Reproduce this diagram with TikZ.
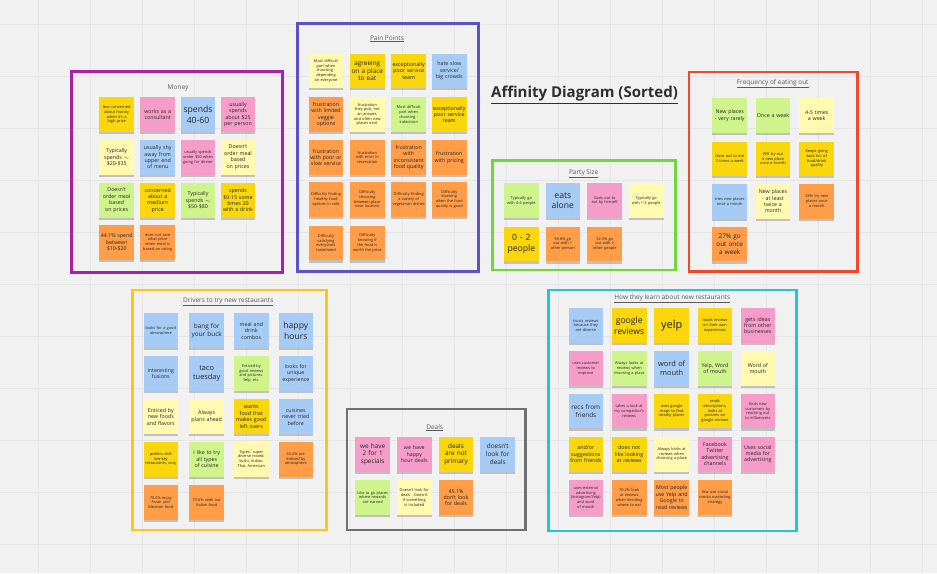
\documentclass[tikz,border=0pt]{standalone}
\usepackage{fontspec}
\setmainfont{Open Sans}
\usetikzlibrary{shadows}
\hyphenpenalty=10000
\exhyphenpenalty=10000
\definecolor{bgc}{RGB}{241,241,241}
\definecolor{gridc}{RGB}{229,229,229}
\definecolor{cgold}{RGB}{250,214,12}
\definecolor{cyell}{RGB}{255,250,176}
\definecolor{cpink}{RGB}{245,156,200}
\definecolor{cblue}{RGB}{166,204,245}
\definecolor{cgreen}{RGB}{208,244,140}
\definecolor{corange}{RGB}{255,157,72}
\definecolor{fmoney}{RGB}{170,30,170}
\definecolor{fpain}{RGB}{92,82,200}
\definecolor{fparty}{RGB}{112,214,62}
\definecolor{ffreq}{RGB}{240,72,40}
\definecolor{fdriv}{RGB}{250,200,20}
\definecolor{fdeals}{RGB}{112,112,112}
\definecolor{flearn}{RGB}{32,200,210}
\definecolor{ttl}{RGB}{90,90,90}
\tikzset{
  note/.style={minimum width=34.6pt,minimum height=34.6pt,text width=32.4pt,inner sep=0.6pt,align=center,text=black!85,
    drop shadow={shadow xshift=0pt,shadow yshift=-2.2pt,opacity=0.2,fill=black}},
  sm/.style={font=\fontsize{3.9}{4.7}\selectfont},
  md/.style={font=\fontsize{5.3}{6.4}\selectfont},
  mdp/.style={font=\fontsize{6.4}{7.8}\selectfont},
  lg/.style={font=\fontsize{8.6}{10.6}\selectfont},
  xl/.style={font=\fontsize{11}{13}\selectfont},
  frm/.style={line width=2.6pt,fill=none},
  ftitle/.style={font=\fontsize{6.5}{7.6}\selectfont,text=ttl},
}
\newcommand{\ul}[1]{\underline{#1}}
\begin{document}
\begin{tikzpicture}[x=1pt,y=-1pt]
\useasboundingbox (0,0) rectangle (937,573);
\fill[bgc] (0,0) rectangle (937,573);
\foreach \gx in {38,90,...,937} \draw[gridc,line width=0.8pt] (\gx,0) -- (\gx,573);
\foreach \gy in {24,76,...,573} \draw[gridc,line width=0.8pt] (0,\gy) -- (937,\gy);

% Title
\node[font=\fontsize{15}{17}\selectfont\bfseries,text=black!82] (title) at (584.5,95) {\ul{Affinity Diagram (Sorted)}};

% ===== Money =====
\draw[frm,fmoney] (71.5,71.5) rectangle (282.5,272.5);
\node[ftitle] (tmoney) at (178,87.5) {Money};
\node[note,sm,fill=cgold] (m1) at (116.7,114.7) {less concerned about money when it's a high price};
\node[note,md,fill=cpink] (m2) at (157.7,114.7) {works as a consultant};
\node[note,lg,fill=cblue] (m3) at (198,114.7) {spends 40-60};
\node[note,md,fill=cpink] (m4) at (238,114.7) {usually spends about \$25 per person};
\node[note,md,fill=cyell] (m5) at (116.7,157.3) {Typically spends $\sim$ \$20-\$35};
\node[note,md,fill=cblue] (m6) at (157.7,157.3) {usually shy away from upper end of menu};
\node[note,sm,fill=cpink] (m7) at (198,157.3) {usually spends under \$50 when going for dinner};
\node[note,md,fill=cyell] (m8) at (238,157.3) {Doesn't order meal based on prices};
\node[note,md,fill=cgreen] (m9) at (116.7,200.3) {Doesn't order meal based on prices};
\node[note,md,fill=cgold] (m10) at (157.7,200.3) {concerned about a medium price};
\node[note,md,fill=cgreen] (m11) at (198,200.3) {Typically spends $\sim$ \$50-\$80};
\node[note,md,fill=cgold] (m12) at (238,200.3) {spends \$0-15 some times 20 with a drink};
\node[note,md,fill=corange] (m13) at (116.7,242.3) {44.1\% spend between \$10-\$20};
\node[note,sm,fill=corange] (m14) at (157.7,242.3) {does not care what price when meal is based on rating};

% ===== Pain Points =====
\draw[frm,fpain] (297.5,23.5) rectangle (478.5,271.5);
\node[ftitle] (tpain) at (387,38.7) {\ul{Pain Points}};
\node[note,sm,fill=cyell] (p1) at (326,70.8) {Most difficult part when choosing - depending on everyone};
\node[note,mdp,fill=cgold] (p2) at (367.3,70.8) {agreeing on a place to eat};
\node[note,md,fill=cgold] (p3) at (408.7,70.8) {exceptionally poor service team};
\node[note,md,fill=cblue] (p4) at (449.3,70.8) {hate slow service/ big crowds};
\node[note,md,fill=corange] (p5) at (326,114.5) {frustration with limited veggie options};
\node[note,sm,fill=cyell] (p6) at (367.3,114.5) {frustration they pick, not an answer, and often new places exist};
\node[note,sm,fill=cgreen] (p7) at (408.7,114.5) {Most difficult part when choosing - indecision};
\node[note,md,fill=cgold] (p8) at (449.3,114.5) {exceptionally poor service team};
\node[note,md,fill=corange] (p9) at (326,157.5) {frustration with poor or slow service};
\node[note,sm,fill=corange] (p10) at (367.3,157.5) {frustration with error in reservation};
\node[note,md,fill=corange] (p11) at (408.7,157.5) {frustration with inconsistent food quality};
\node[note,md,fill=corange] (p12) at (449.3,157.5) {frustration with pricing};
\node[note,sm,fill=corange] (p13) at (326,199.3) {Difficulty finding healthy food options in cafe};
\node[note,sm,fill=corange] (p14) at (367.3,199.3) {Difficulty choosing between place near location};
\node[note,sm,fill=corange] (p15) at (408.7,199.3) {Difficulty finding a variety of vegetarian dishes};
\node[note,sm,fill=corange] (p16) at (449.3,199.3) {Difficulty knowing when the food quality is good};
\node[note,sm,fill=corange] (p17) at (326,243) {Difficulty satisfying everyone's taste/need};
\node[note,sm,fill=corange] (p18) at (367.3,243) {Difficulty knowing if the food is worth the price};

% ===== Party Size =====
\draw[frm,fparty] (492.5,160.5) rectangle (675.5,270);
\node[ftitle] (tparty) at (583.7,174) {\ul{Party Size}};
\node[note,sm,fill=cgreen] (s1) at (521.3,200.7) {Typically go with 4-6 people};
\node[note,lg,fill=cblue] (s2) at (562.8,200.7) {eats alone};
\node[note,sm,fill=cpink] (s3) at (604.7,200.7) {Goes out to eat by himself};
\node[note,sm,fill=cyell] (s4) at (646.2,200.7) {Typically go with 1-3 people};
\node[note,lg,fill=cgold] (s5) at (521.3,244) {0 - 2 people};
\node[note,sm,fill=corange] (s6) at (562.8,244) {58.8\% go out with 1 other person};
\node[note,sm,fill=corange] (s7) at (604.7,244) {32.3\% go out with 2 other people};

% ===== Frequency =====
\draw[frm,ffreq] (689,72) rectangle (857.5,271.3);
\node[ftitle] (tfreq) at (772.7,84) {\ul{Frequency of eating out}};
\node[note,md,fill=cgreen] (f1) at (729.7,115.5) {New places - very rarely};
\node[note,md,fill=cgreen] (f2) at (773,115.5) {Once a week};
\node[note,md,fill=cyell] (f3) at (816.7,115.5) {4-5 times a week};
\node[note,sm,fill=cgold] (f4) at (729.7,158.8) {Goes out to eat 3 times a week};
\node[note,sm,fill=cgold] (f5) at (773,158.8) {Will try out a new place once a month};
\node[note,sm,fill=cgold] (f6) at (816.7,158.8) {Keeps going back b/c of food/drink quality};
\node[note,sm,fill=cblue] (f7) at (729.7,201.3) {tries new places once a month};
\node[note,md,fill=cyell] (f8) at (773,201.3) {New places - at least twice a month};
\node[note,sm,fill=corange] (f9) at (816.7,201.3) {38\% try new places once a month};
\node[note,mdp,fill=corange] (f10) at (729.7,244) {27\% go out once a week};

% ===== Drivers =====
\draw[frm,fdriv] (132.5,290) rectangle (326.5,530);
\node[ftitle] (tdriv) at (228.3,302) {\ul{Drivers to try new restaurants}};
\node[note,sm,fill=cblue] (d1) at (160.8,330.7) {looks for a good atmosphere};
\node[note,mdp,fill=cblue] (d2) at (206.7,330.7) {bang for your buck};
\node[note,md,fill=cblue] (d3) at (251.3,330.7) {meal and drink combos};
\node[note,lg,fill=cblue] (d4) at (295.8,330.7) {happy hours};
\node[note,md,fill=cblue] (d5) at (160.8,373.5) {interesting fusions};
\node[note,font=\fontsize{7.4}{9.2}\selectfont,fill=cblue] (d6) at (206.7,373.5) {taco tuesday};
\node[note,sm,fill=cgreen] (d7) at (251.3,373.5) {Enticed by good reviews and pictures. Yelp, etc.};
\node[note,md,fill=cblue] (d8) at (295.8,373.5) {looks for unique experience};
\node[note,md,fill=cyell] (d9) at (160.8,416.7) {Enticed by new foods and flavors};
\node[note,md,fill=cyell] (d10) at (206.7,416.7) {Always plans ahead};
\node[note,md,fill=cgold] (d11) at (251.3,416.7) {wants food that makes good left overs};
\node[note,md,fill=cblue] (d12) at (295.8,416.7) {cuisines never tried before};
\node[note,sm,fill=cgold] (d13) at (160.8,459.2) {prefers chill low-key restaurants, cozy};
\node[note,md,fill=cgreen] (d14) at (206.7,459.2) {I like to try all types of cuisine};
\node[note,sm,fill=cyell] (d15) at (251.3,459.2) {Types: super diverse mixed: Sushi, Indian, Thai, American};
\node[note,sm,fill=corange] (d16) at (295.8,459.2) {63.4\% are enticed by atmosphere};
\node[note,sm,fill=corange] (d17) at (160.8,502.5) {70.6\% enjoy Asian and Mexican food};
\node[note,sm,fill=corange] (d18) at (206.7,502.5) {73.6\% seek out Italian food};

% ===== Deals =====
\draw[frm,fdeals] (347,409) rectangle (525.5,530);
\node[ftitle] (tdeals) at (434.7,427.7) {\ul{Deals}};
\node[note,mdp,fill=cpink] (e1) at (372.7,454.2) {we have 2 for 1 specials};
\node[note,md,fill=cpink] (e2) at (414.3,454.2) {we have happy hour deals};
\node[note,mdp,fill=cgold] (e3) at (456,454.2) {deals are not primary};
\node[note,mdp,fill=cblue] (e4) at (497.7,454.2) {doesn't look for deals};
\node[note,sm,fill=cgreen] (e5) at (372.7,497.5) {Like to go places where rewards are earned};
\node[note,sm,fill=cyell] (e6) at (414.3,497.5) {Doesn't look for deals - Doesn't if something is included};
\node[note,md,fill=corange] (e7) at (456,497.5) {45.1\% don't look for deals};

% ===== How they learn =====
\draw[frm,flearn] (548.5,290) rectangle (796.5,531);
\node[ftitle] (tlearn) at (672.3,298.7) {\ul{How they learn about new restaurants}};
\node[note,sm,fill=cblue] (l1) at (585.8,325.5) {trusts reviews because they are diverse};
\node[note,lg,fill=cgold] (l2) at (629.2,325.5) {google reviews};
\node[note,xl,fill=cgold] (l3) at (671.7,325.5) {yelp};
\node[note,sm,fill=cgold] (l4) at (715,325.5) {reads reviews on their own experiences};
\node[note,md,fill=cpink] (l5) at (757.8,325.5) {gets ideas from other businesses};
\node[note,sm,fill=cpink] (l6) at (585.8,368.5) {uses customer reviews to improve};
\node[note,sm,fill=cgreen] (l7) at (629.2,368.5) {Always looks at reviews when choosing a place};
\node[note,font=\fontsize{7.4}{9.2}\selectfont,fill=cblue] (l8) at (671.7,368.5) {word of mouth};
\node[note,md,fill=cgreen] (l9) at (715,368.5) {Yelp, Word of mouth};
\node[note,md,fill=cyell] (l10) at (757.8,368.5) {Word of mouth};
\node[note,mdp,fill=cblue] (l11) at (585.8,411) {recs from friends};
\node[note,sm,fill=cpink] (l12) at (629.2,411) {takes a look at my competitor's reviews};
\node[note,sm,fill=cgold] (l13) at (671.7,411) {uses google maps to find nearby places};
\node[note,sm,fill=cgold] (l14) at (715,411) {reads descriptions, looks at pictures on google reviews};
\node[note,sm,fill=cpink] (l15) at (757.8,411) {finds new customers by reaching out to influencers};
\node[note,md,fill=cgold] (l16) at (585.8,454.2) {and/or suggestions from friends};
\node[note,md,fill=cgold] (l17) at (629.2,454.2) {does not like looking at reviews};
\node[note,sm,fill=cyell] (l18) at (671.7,454.2) {Always looks at reviews when choosing a place};
\node[note,md,fill=cpink] (l19) at (715,454.2) {Facebook Twitter advertising channels};
\node[note,md,fill=cpink] (l20) at (757.8,454.2) {Uses social media for advertising};
\node[note,sm,fill=cpink] (l21) at (585.8,497.5) {uses external advertising (Instagram/Yelp) and word of mouth};
\node[note,sm,fill=corange] (l22) at (629.2,497.5) {70.2\% look at reviews when deciding where to eat};
\node[note,md,fill=corange] (l23) at (671.7,497.5) {Most people use Yelp and Google to read reviews};
\node[note,sm,fill=corange] (l24) at (715,497.5) {few use social media marketing strategy};
\end{tikzpicture}
\end{document}
